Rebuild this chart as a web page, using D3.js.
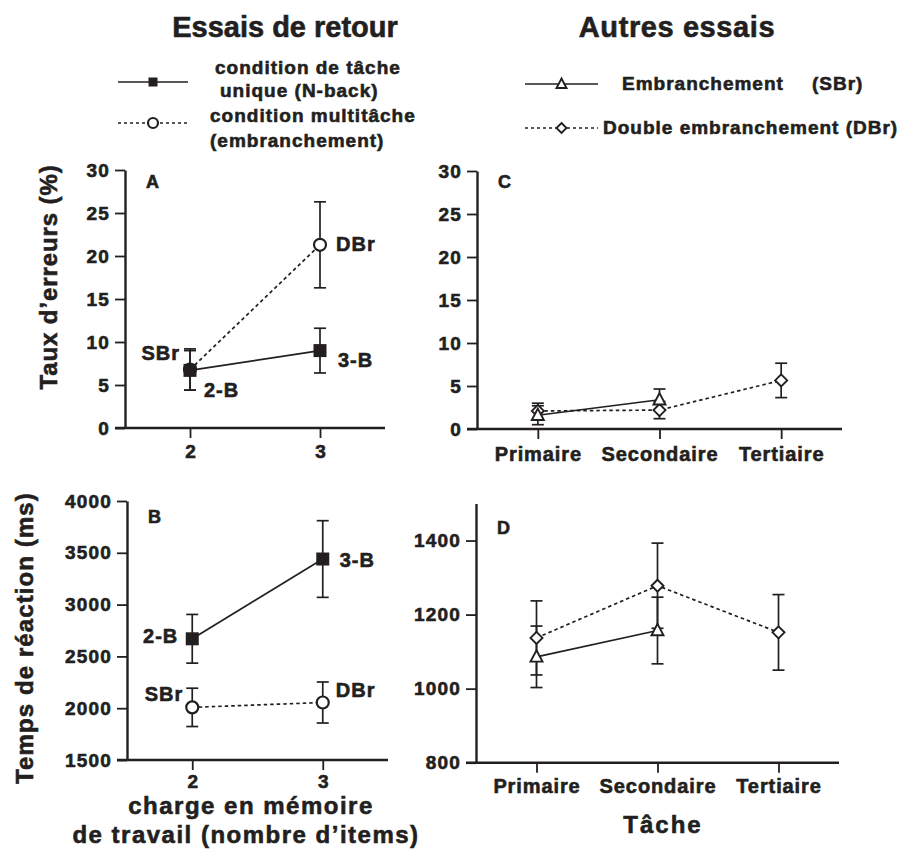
<!DOCTYPE html>
<html>
<head>
<meta charset="utf-8">
<script src="https://cdn.jsdelivr.net/npm/d3@7"></script>
<style>
  html, body { margin: 0; padding: 0; background: #fff; }
  svg { display: block; }
  text { font-family: "Liberation Sans", Arial, Helvetica, sans-serif; font-weight: bold; fill: #231f20; stroke: #231f20; stroke-width: 0.6px; }
</style>
</head>
<body>
<svg id="chart" width="914" height="850"></svg>
<script>
// ---------------- DATA ----------------
const loadLevels = [2, 3];                       // panels A & B x values
const taskLevels = ["Primaire", "Secondaire", "Tertiaire"]; // panels C & D

// Panel A – error rate (%)
const errSingle = [6.7, 9.0];      // N-back (2-B, 3-B)
const errSingleSE = [2.3, 2.6];
const errMulti = [6.8, 21.3];      // SBr, DBr
const errMultiSE = [2.4, 5.0];

// Panel B – reaction time (ms)
const rtSingle = [2670, 3440];
const rtSingleSE = [235, 370];
const rtMulti = [2008, 2055];
const rtMultiSE = [185, 198];

// Panel C – error rate (%) by task
const errSBr = [1.6, 3.4];
const errSBrSE = [1.1, 1.25];
const errDBr = [2.1, 2.2, 5.65];
const errDBrSE = [0.9, 1.0, 2.0];

// Panel D – reaction time (ms) by task
const rtSBr = [1086, 1157];
const rtSBrSE = [83, 90];
const rtDBr = [1137, 1278, 1152];
const rtDBrSE = [100, 115, 102];

// Tick labels
const errTicks = [0, 5, 10, 15, 20, 25, 30];
const rtBTicks = [1500, 2000, 2500, 3000, 3500, 4000];
const rtDTicks = [800, 1000, 1200, 1400];

// Text
const headers = ["Essais de retour", "Autres essais"];
const legendLeft = [["condition de tâche", "unique (N-back)"], ["condition multitâche", "(embranchement)"]];
const legendRight = ["Embranchement", "(SBr)", "Double embranchement (DBr)"];

// ---------------- DRAWING ----------------
const svg = d3.select("#chart");
const INK = "#231f20";

const markers = {
  square: (g, s) => g.append("rect").attr("x", -s/2).attr("y", -s/2).attr("width", s).attr("height", s).attr("fill", INK),
  circle: (g, s) => g.append("circle").attr("r", s/2).attr("fill", "#fff").attr("stroke", INK).attr("stroke-width", 2.2),
  triangle: (g, s) => g.append("path").attr("d", `M0,${-s*0.55}L${s*0.5},${s*0.4}L${-s*0.5},${s*0.4}Z`).attr("fill", "#fff").attr("stroke", INK).attr("stroke-width", 1.9),
  diamond: (g, s) => g.append("path").attr("d", `M0,${-s/2}L${s/2},0L0,${s/2}L${-s/2},0Z`).attr("fill", "#fff").attr("stroke", INK).attr("stroke-width", 1.9)
};

function drawPanel(cfg) {
  const g = svg.append("g");
  const x = d3.scalePoint().domain(cfg.xDomain).range(cfg.xRange).padding(0.5);
  const y = d3.scaleLinear().domain(cfg.yDomain).range(cfg.yRange);

  // y axis
  const ya = g.append("g").attr("transform", `translate(${cfg.xRange[0]},0)`)
    .call(d3.axisLeft(y).tickValues(cfg.yTicks).tickSize(10).tickSizeOuter(0).tickPadding(5).tickFormat(d3.format("d")));
  ya.select(".domain").attr("stroke", INK).attr("stroke-width", 2.4);
  ya.selectAll(".tick line").attr("stroke", INK).attr("stroke-width", 1.8);
  ya.selectAll(".tick text").attr("font-size", 19).attr("letter-spacing", 1.2).attr("fill", INK)
    .attr("font-family", "'Liberation Sans', Arial, sans-serif").attr("font-weight", "bold");

  // x axis
  const xa = g.append("g").attr("transform", `translate(0,${cfg.yRange[0]})`)
    .call(d3.axisBottom(x).tickSize(10).tickSizeOuter(0).tickPadding(cfg.xPad));
  xa.select(".domain").attr("stroke", INK).attr("stroke-width", 2.4)
    .attr("d", `M${cfg.xRange[0]-10},0H${cfg.xRange[1]}`);
  xa.selectAll(".tick line").attr("stroke", INK).attr("stroke-width", 1.8);
  xa.selectAll(".tick text").attr("font-size", cfg.xFont).attr("letter-spacing", cfg.xLs).attr("fill", INK)
    .attr("font-family", "'Liberation Sans', Arial, sans-serif").attr("font-weight", "bold");

  // panel letter
  g.append("text").attr("x", cfg.xRange[0] + 21).attr("y", y(cfg.yDomain[1]) + cfg.letterDy)
    .attr("font-size", 18).text(cfg.letter);

  // series
  cfg.series.forEach(s => {
    const pts = s.values.map((v, i) => ({ x: x(cfg.xDomain[i]), y: y(v), lo: y(v - s.se[i]), hi: y(v + s.se[i]) }));
    g.append("path").datum(pts)
      .attr("d", d3.line().x(d => d.x).y(d => d.y))
      .attr("fill", "none").attr("stroke", INK).attr("stroke-width", 1.7)
      .attr("stroke-dasharray", s.dashed ? "3.5,3" : null);
    s._pts = pts;
  });
  cfg.series.forEach(s => {
    s._pts.forEach(p => {
      const eb = g.append("g").attr("stroke", INK).attr("stroke-width", 1.7);
      eb.append("line").attr("x1", p.x).attr("x2", p.x).attr("y1", p.lo).attr("y2", p.hi);
      eb.append("line").attr("x1", p.x - 6).attr("x2", p.x + 6).attr("y1", p.lo).attr("y2", p.lo);
      eb.append("line").attr("x1", p.x - 6).attr("x2", p.x + 6).attr("y1", p.hi).attr("y2", p.hi);
    });
  });
  cfg.series.forEach(s => {
    s._pts.forEach(p => {
      const mg = g.append("g").attr("transform", `translate(${p.x},${p.y})`);
      markers[s.marker](mg, s.size);
    });
  });
  (cfg.labels || []).forEach(l => {
    const s = cfg.series[l.s];
    const p = s._pts[l.i];
    g.append("text").attr("x", p.x + l.dx).attr("y", p.y + l.dy)
      .attr("text-anchor", l.anchor).attr("font-size", 20).attr("letter-spacing", 1).text(l.text);
  });
  return { x, y };
}

// Panel A
drawPanel({
  letter: "A", letterDy: 18,
  xDomain: loadLevels, xRange: [125, 385], xPad: 7, xFont: 19, xLs: 0,
  yDomain: [0, 30], yRange: [428, 170], yTicks: errTicks,
  series: [
    { values: errMulti, se: errMultiSE, dashed: true, marker: "circle", size: 12 },
    { values: errSingle, se: errSingleSE, dashed: false, marker: "square", size: 13 }
  ],
  labels: [
    { s: 0, i: 0, text: "SBr", dx: -10, dy: -9.5, anchor: "end" },
    { s: 1, i: 0, text: "2-B", dx: 14, dy: 27, anchor: "start" },
    { s: 1, i: 1, text: "3-B", dx: 18, dy: 16, anchor: "start" },
    { s: 0, i: 1, text: "DBr", dx: 16, dy: 6, anchor: "start" }
  ]
});

// Panel B
drawPanel({
  letter: "B", letterDy: 22,
  xDomain: loadLevels, xRange: [127, 388], xPad: 5, xFont: 19, xLs: 0,
  yDomain: [1500, 4000], yRange: [760, 501], yTicks: rtBTicks,
  series: [
    { values: rtMulti, se: rtMultiSE, dashed: true, marker: "circle", size: 12 },
    { values: rtSingle, se: rtSingleSE, dashed: false, marker: "square", size: 13 }
  ],
  labels: [
    { s: 1, i: 0, text: "2-B", dx: -14, dy: 4, anchor: "end" },
    { s: 1, i: 1, text: "3-B", dx: 17, dy: 8, anchor: "start" },
    { s: 0, i: 0, text: "SBr", dx: -9, dy: -6, anchor: "end" },
    { s: 0, i: 1, text: "DBr", dx: 13, dy: -5.5, anchor: "start" }
  ]
});

// Panel C
drawPanel({
  letter: "C", letterDy: 17,
  xDomain: taskLevels, xRange: [477, 842], xPad: 8, xFont: 20, xLs: 0.9,
  yDomain: [0, 30], yRange: [429, 171], yTicks: errTicks,
  series: [
    { values: errDBr, se: errDBrSE, dashed: true, marker: "diamond", size: 12 },
    { values: errSBr, se: errSBrSE, dashed: false, marker: "triangle", size: 12 }
  ]
});

// Panel D
drawPanel({
  letter: "D", letterDy: 30,
  xDomain: taskLevels, xRange: [476, 839], xPad: 6, xFont: 20, xLs: 0.9,
  yDomain: [800, 1500], yRange: [762.7, 503.5], yTicks: rtDTicks,
  series: [
    { values: rtDBr, se: rtDBrSE, dashed: true, marker: "diamond", size: 12 },
    { values: rtSBr, se: rtSBrSE, dashed: false, marker: "triangle", size: 12 }
  ]
});

// Headers
svg.append("text").attr("x", 285).attr("y", 37).attr("text-anchor", "middle").attr("font-size", 29).attr("stroke-width", 0.8).text(headers[0]);
svg.append("text").attr("x", 677).attr("y", 37).attr("text-anchor", "middle").attr("font-size", 29).attr("stroke-width", 0.8).attr("letter-spacing", 0.6).text(headers[1]);

// Axis titles
svg.append("text").attr("transform", "translate(57,277) rotate(-90)").attr("text-anchor", "middle")
  .attr("font-size", 24).attr("letter-spacing", 0.9).text("Taux d’erreurs (%)");
svg.append("text").attr("transform", "translate(33,638) rotate(-90)").attr("text-anchor", "middle")
  .attr("font-size", 24).attr("letter-spacing", 1.1).text("Temps de réaction (ms)");
svg.append("text").attr("x", 251).attr("y", 814).attr("text-anchor", "middle")
  .attr("font-size", 24).attr("letter-spacing", 1.5).text("charge en mémoire");
svg.append("text").attr("x", 246).attr("y", 843).attr("text-anchor", "middle")
  .attr("font-size", 24).attr("letter-spacing", 1.5).text("de travail (nombre d’items)");
svg.append("text").attr("x", 663).attr("y", 833).attr("text-anchor", "middle")
  .attr("font-size", 24).attr("letter-spacing", 2).text("Tâche");

// Legends
function legendLine(x1, x2, y, dashed, marker, size) {
  svg.append("line").attr("x1", x1).attr("x2", x2).attr("y1", y).attr("y2", y)
    .attr("stroke", INK).attr("stroke-width", 1.7).attr("stroke-dasharray", dashed ? "3,3" : null);
  const mg = svg.append("g").attr("transform", `translate(${(x1 + x2) / 2},${y})`);
  markers[marker](mg, size);
}
legendLine(118, 188, 82, false, "square", 9);
legendLine(118, 188, 123, true, "circle", 10);
const lfs = 19, lls = 1.0;
svg.append("text").attr("x", 215).attr("y", 74).attr("font-size", lfs).attr("letter-spacing", lls).text(legendLeft[0][0]);
svg.append("text").attr("x", 220).attr("y", 97).attr("font-size", lfs).attr("letter-spacing", lls).text(legendLeft[0][1]);
svg.append("text").attr("x", 210).attr("y", 122).attr("font-size", lfs).attr("letter-spacing", lls).text(legendLeft[1][0]);
svg.append("text").attr("x", 210).attr("y", 147).attr("font-size", lfs).attr("letter-spacing", lls).text(legendLeft[1][1]);

legendLine(525, 598, 84, false, "triangle", 10);
legendLine(525, 598, 128, true, "diamond", 10);
svg.append("text").attr("x", 622).attr("y", 90).attr("font-size", lfs).attr("letter-spacing", lls).text(legendRight[0]);
svg.append("text").attr("x", 812).attr("y", 90).attr("font-size", lfs).attr("letter-spacing", lls).text(legendRight[1]);
svg.append("text").attr("x", 603).attr("y", 134).attr("font-size", lfs).attr("letter-spacing", lls).text(legendRight[2]);
</script>
</body>
</html>
